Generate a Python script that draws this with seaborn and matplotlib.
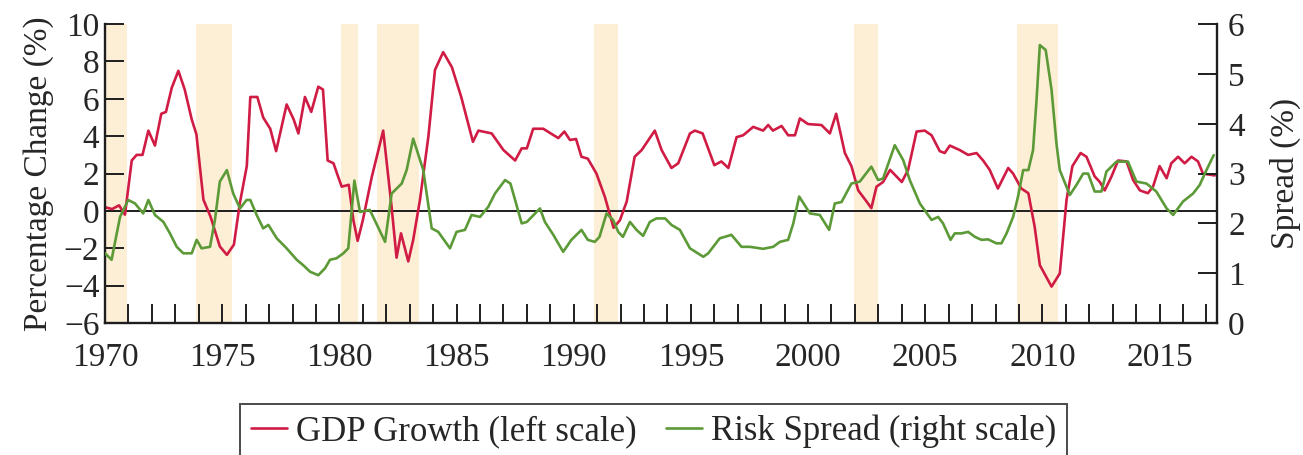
import numpy as np
import pandas as pd
import matplotlib
matplotlib.use("Agg")
import matplotlib.pyplot as plt
from matplotlib.ticker import MultipleLocator
import seaborn as sns

# values
gdp_year = [1970.0, 1970.3, 1970.6, 1970.85, 1971.14, 1971.35, 1971.6, 1971.85, 1972.13, 1972.4,
            1972.6, 1972.85, 1973.13, 1973.4, 1973.7, 1973.9, 1974.2, 1974.5, 1974.9, 1975.2,
            1975.5, 1975.75, 1976.05, 1976.2, 1976.5, 1976.75, 1977.05, 1977.3, 1977.75, 1978.05,
            1978.25, 1978.53, 1978.8, 1979.1, 1979.3, 1979.5, 1979.75, 1979.9, 1980.1, 1980.4,
            1980.6, 1980.78, 1981.0, 1981.38, 1981.87, 1982.23, 1982.44, 1982.63, 1982.94, 1983.15,
            1983.44, 1983.8, 1984.08, 1984.43, 1984.8, 1985.2, 1985.7, 1985.93, 1986.5, 1987.0,
            1987.5, 1987.78, 1988.0, 1988.27, 1988.7, 1989.34, 1989.6, 1989.84, 1990.1, 1990.33,
            1990.6, 1990.97, 1991.33, 1991.7, 1991.97, 1992.26, 1992.6, 1992.9, 1993.46, 1993.75,
            1994.17, 1994.46, 1994.96, 1995.17, 1995.5, 1996.0, 1996.3, 1996.6, 1996.95, 1997.23,
            1997.66, 1998.08, 1998.3, 1998.5, 1998.87, 1999.15, 1999.44, 1999.65, 2000.0, 2000.57,
            2000.93, 2001.2, 2001.57, 2001.85, 2002.14, 2002.5, 2002.7, 2002.92, 2003.2, 2003.5,
            2004.0, 2004.27, 2004.63, 2004.98, 2005.27, 2005.62, 2005.83, 2006.05, 2006.47, 2006.83,
            2007.19, 2007.47, 2007.75, 2008.1, 2008.54, 2008.75, 2009.1, 2009.4, 2009.67, 2009.89,
            2010.39, 2010.74, 2011.03, 2011.28, 2011.63, 2011.88, 2012.23, 2012.45, 2012.66, 2012.95,
            2013.23, 2013.59, 2013.87, 2014.16, 2014.5, 2014.72, 2015.0, 2015.3, 2015.5, 2015.79,
            2016.07, 2016.36, 2016.64, 2016.85, 2017.35]
gdp_growth = [0.2, 0.1, 0.3, -0.2, 2.7, 3.0, 3.0, 4.3, 3.5, 5.2,
              5.3, 6.6, 7.5, 6.5, 4.9, 4.1, 0.6, -0.3, -1.9, -2.35,
              -1.8, 0.4, 2.4, 6.1, 6.1, 5.0, 4.4, 3.2, 5.7, 4.9,
              4.15, 6.1, 5.3, 6.65, 6.5, 2.7, 2.55, 2.0, 1.3, 1.4,
              -0.5, -1.6, -0.5, 1.8, 4.3, 0.2, -2.5, -1.2, -2.7, -1.55,
              0.6, 4.0, 7.55, 8.5, 7.7, 6.1, 3.7, 4.3, 4.15, 3.26,
              2.7, 3.35, 3.35, 4.4, 4.4, 3.9, 4.25, 3.8, 3.85, 2.9,
              2.8, 2.0, 0.75, -0.9, -0.5, 0.5, 2.9, 3.26, 4.3, 3.26,
              2.3, 2.55, 4.15, 4.3, 4.15, 2.45, 2.65, 2.3, 3.95, 4.05,
              4.5, 4.3, 4.6, 4.3, 4.55, 4.05, 4.05, 4.95, 4.65, 4.6,
              4.15, 5.2, 3.1, 2.4, 1.1, 0.5, 0.15, 1.3, 1.55, 2.2,
              1.55, 2.2, 4.25, 4.3, 4.05, 3.2, 3.1, 3.5, 3.26, 3.0,
              3.1, 2.7, 2.2, 1.2, 2.3, 2.0, 1.2, 0.95, -0.85, -2.9,
              -4.05, -3.35, 0.6, 2.4, 3.1, 2.9, 1.85, 1.55, 1.1, 1.85,
              2.7, 2.65, 1.65, 1.1, 0.95, 1.3, 2.4, 1.75, 2.55, 2.9,
              2.55, 2.9, 2.65, 2.0, 1.9]

spread_year = [1970.0, 1970.28, 1970.64, 1970.99, 1971.28, 1971.63, 1971.85, 1972.13, 1972.49, 1972.77,
               1973.06, 1973.34, 1973.7, 1973.91, 1974.12, 1974.48, 1974.69, 1974.9, 1975.2, 1975.47,
               1975.76, 1976.04, 1976.2, 1976.47, 1976.75, 1976.97, 1977.33, 1977.75, 1978.18, 1978.46,
               1978.75, 1979.1, 1979.39, 1979.6, 1979.88, 1980.17, 1980.38, 1980.64, 1980.88, 1981.3,
               1981.95, 1982.23, 1982.66, 1982.87, 1983.15, 1983.58, 1983.94, 1984.22, 1984.72, 1985.0,
               1985.36, 1985.64, 1986.0, 1986.35, 1986.64, 1987.07, 1987.3, 1987.78, 1988.0, 1988.56,
               1988.77, 1989.13, 1989.55, 1989.9, 1990.33, 1990.6, 1990.9, 1991.1, 1991.4, 1991.68,
               1991.9, 1992.1, 1992.4, 1992.68, 1992.96, 1993.25, 1993.53, 1993.9, 1994.17, 1994.53,
               1994.96, 1995.53, 1995.74, 1996.23, 1996.73, 1997.16, 1997.52, 1998.08, 1998.51, 1998.8,
               1999.15, 1999.37, 1999.62, 2000.08, 2000.5, 2000.9, 2001.14, 2001.43, 2001.85, 2002.21,
               2002.7, 2002.99, 2003.2, 2003.7, 2004.06, 2004.34, 2004.77, 2005.27, 2005.55, 2005.76,
               2006.08, 2006.26, 2006.55, 2006.83, 2007.12, 2007.4, 2007.68, 2008.04, 2008.25, 2008.47,
               2008.75, 2008.96, 2009.18, 2009.4, 2009.6, 2009.75, 2009.89, 2010.14, 2010.39, 2010.6,
               2010.74, 2011.17, 2011.45, 2011.74, 2011.95, 2012.23, 2012.52, 2012.73, 2013.16, 2013.65,
               2014.01, 2014.44, 2014.86, 2015.3, 2015.58, 2016.0, 2016.43, 2016.71, 2017.0, 2017.31]
risk_spread = [1.4, 1.27, 2.13, 2.47, 2.4, 2.2, 2.47, 2.17, 2.03, 1.8,
               1.53, 1.4, 1.4, 1.67, 1.5, 1.53, 2.07, 2.84, 3.07, 2.6,
               2.3, 2.47, 2.47, 2.17, 1.9, 1.97, 1.7, 1.5, 1.27, 1.16,
               1.03, 0.96, 1.1, 1.27, 1.3, 1.4, 1.5, 2.86, 2.23, 2.27,
               1.63, 2.6, 2.8, 3.07, 3.7, 3.07, 1.9, 1.83, 1.5, 1.83,
               1.87, 2.17, 2.13, 2.33, 2.6, 2.87, 2.8, 2.0, 2.03, 2.3,
               2.03, 1.77, 1.43, 1.67, 1.87, 1.67, 1.63, 1.73, 2.2, 2.07,
               1.83, 1.73, 2.03, 1.87, 1.75, 2.03, 2.1, 2.1, 1.97, 1.87,
               1.5, 1.33, 1.4, 1.7, 1.77, 1.53, 1.53, 1.49, 1.53, 1.63,
               1.67, 2.0, 2.54, 2.2, 2.17, 1.87, 2.4, 2.43, 2.8, 2.84,
               3.14, 2.87, 2.9, 3.57, 3.27, 2.87, 2.4, 2.07, 2.13, 2.0,
               1.67, 1.8, 1.8, 1.83, 1.73, 1.67, 1.68, 1.6, 1.6, 1.8,
               2.13, 2.54, 3.07, 3.07, 3.47, 4.48, 5.58, 5.48, 4.68, 3.6,
               3.07, 2.57, 2.77, 3.0, 3.0, 2.64, 2.64, 3.04, 3.24, 3.24,
               2.84, 2.8, 2.64, 2.3, 2.17, 2.44, 2.6, 2.77, 3.07, 3.37]

recession_start = [1970.0, 1973.9, 1980.05, 1981.6, 1990.86, 2001.95, 2008.9]
recession_end = [1970.95, 1975.4, 1980.8, 1983.4, 1991.9, 2002.98, 2010.67]

RED = "#d01c44"
GREEN = "#5c9a38"
SHADE = "#fdeed6"
INK = "#1e1e1e"

sns.set_style("ticks")
plt.rcParams["font.family"] = ["Liberation Serif", "DejaVu Serif"]

gdp_df = pd.DataFrame({"year": gdp_year, "value": gdp_growth})
spread_df = pd.DataFrame({"year": spread_year, "value": risk_spread})

fig = plt.figure(figsize=(13.03, 4.55), dpi=100)
ax = fig.add_axes([0.0806, 0.290, 0.8534, 0.657])
ax2 = ax.twinx()

# recession bands and zero line
for s, e in zip(recession_start, recession_end):
    ax.axvspan(s, e, color=SHADE, lw=0, zorder=0)
ax.axhline(0, color=INK, lw=1.4, zorder=1)

sns.lineplot(data=gdp_df, x="year", y="value", ax=ax, color=RED, lw=1.9,
             label="GDP Growth (left scale)", legend=False)
sns.lineplot(data=spread_df, x="year", y="value", ax=ax2, color=GREEN, lw=1.9,
             label="Risk Spread (right scale)", legend=False)

ax.set_xlim(1970, 2017.45)
ax.set_ylim(-6, 10)
ax2.set_ylim(0, 6)

ax.xaxis.set_major_locator(MultipleLocator(5))
ax.xaxis.set_minor_locator(MultipleLocator(1))
ax.yaxis.set_major_locator(MultipleLocator(2))
ax2.yaxis.set_major_locator(MultipleLocator(1))

ax.tick_params(axis="x", which="both", direction="in", length=14, width=1.4,
               color=INK, labelsize=24, pad=14)
ax.tick_params(axis="y", direction="in", length=14, width=1.4, color=INK,
               labelsize=24, pad=4)
ax2.tick_params(axis="y", direction="in", length=14, width=1.4, color=INK,
                labelsize=24, pad=8)

ax.set_yticklabels([f"{int(v)}".replace("-", "\u2212") for v in ax.get_yticks()])

for a in (ax, ax2):
    a.spines["top"].set_visible(False)
    for side in ("left", "right", "bottom"):
        a.spines[side].set_linewidth(1.7)
        a.spines[side].set_color(INK)
ax.spines["right"].set_visible(False)
ax2.spines["left"].set_visible(False)
ax2.spines["bottom"].set_visible(False)

ax.set_xlabel("")
ax.set_ylabel("Percentage Change (%)", fontsize=24, labelpad=7)
ax2.set_ylabel("Spread (%)", fontsize=24, labelpad=18)

h1, l1 = ax.get_legend_handles_labels()
h2, l2 = ax2.get_legend_handles_labels()
leg = fig.legend(h1 + h2, l1 + l2, loc="upper center", bbox_to_anchor=(0.5015, 0.112),
                 ncol=2, frameon=True, fancybox=False, edgecolor=INK, fontsize=25,
                 handlelength=1.05, handletextpad=0.25, columnspacing=0.85, borderpad=0.3,
                 borderaxespad=0)
leg.get_frame().set_linewidth(1.4)

fig.savefig("out.png", dpi=100)
